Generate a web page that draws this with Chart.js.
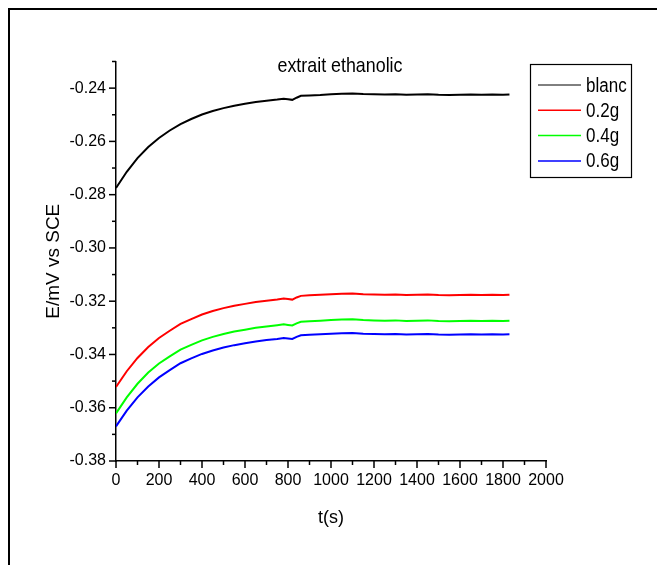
<!DOCTYPE html>
<html>
<head>
<meta charset="utf-8">
<script src="https://cdn.jsdelivr.net/npm/chart.js@4.4.1/dist/chart.umd.min.js"></script>
<style>
    body { margin: 0; background: #fff; }
    #quadro { position: relative; width: 657px; height: 565px; overflow: hidden; }
    #moldura {
        position: absolute; left: 8px; top: 8px; width: 700px; height: 600px;
        border-left: 2px solid #000; border-top: 2px solid #000;
    }
    canvas { position: absolute; left: 0; top: 0; }
</style>
</head>
<body>
<div id="quadro">
    <div id="moldura"></div>
    <canvas id="grafico" width="657" height="565"></canvas>
</div>
<script>
// tempo (s)
const tempos = [0, 50, 100, 150, 200, 250, 300, 350, 400, 450, 500, 550, 600, 650, 700, 750,
    780, 800, 820, 840, 860, 900, 950, 1000, 1050, 1100, 1150, 1200, 1250, 1300, 1350,
    1400, 1450, 1500, 1550, 1600, 1650, 1700, 1750, 1800, 1830];

const blanc = [-0.2775, -0.2714, -0.2663, -0.2621, -0.2587, -0.2559, -0.2535, -0.2516, -0.2499, -0.2486,
    -0.2475, -0.2466, -0.2459, -0.2452, -0.2447, -0.2443, -0.2440, -0.2442, -0.2444, -0.2436,
    -0.2429, -0.2428, -0.2426, -0.2423, -0.2421, -0.2420, -0.2422, -0.2423, -0.2424, -0.2423,
    -0.2425, -0.2424, -0.2423, -0.2425, -0.2426, -0.2425, -0.2424, -0.2425, -0.2424, -0.2425, -0.2424];

const g02 = [-0.3522, -0.3463, -0.3413, -0.3372, -0.3338, -0.3311, -0.3285, -0.3267, -0.3250, -0.3237,
    -0.3226, -0.3217, -0.3210, -0.3203, -0.3198, -0.3194, -0.3190, -0.3192, -0.3194, -0.3186,
    -0.3180, -0.3178, -0.3176, -0.3174, -0.3172, -0.3171, -0.3174, -0.3175, -0.3176, -0.3175,
    -0.3177, -0.3176, -0.3175, -0.3177, -0.3178, -0.3177, -0.3176, -0.3177, -0.3176, -0.3177, -0.3176];

const g04 = [-0.3621, -0.3561, -0.3510, -0.3468, -0.3434, -0.3407, -0.3382, -0.3364, -0.3347, -0.3334,
    -0.3323, -0.3314, -0.3307, -0.3300, -0.3295, -0.3290, -0.3287, -0.3289, -0.3291, -0.3283,
    -0.3277, -0.3275, -0.3273, -0.3271, -0.3269, -0.3268, -0.3271, -0.3272, -0.3273, -0.3272,
    -0.3274, -0.3273, -0.3272, -0.3274, -0.3275, -0.3274, -0.3273, -0.3274, -0.3273, -0.3274, -0.3273];

const g06 = [-0.3670, -0.3611, -0.3561, -0.3520, -0.3486, -0.3459, -0.3433, -0.3415, -0.3398, -0.3385,
    -0.3374, -0.3365, -0.3358, -0.3351, -0.3346, -0.3342, -0.3338, -0.3340, -0.3342, -0.3334,
    -0.3328, -0.3326, -0.3324, -0.3322, -0.3320, -0.3319, -0.3322, -0.3323, -0.3324, -0.3323,
    -0.3325, -0.3324, -0.3323, -0.3325, -0.3326, -0.3325, -0.3324, -0.3325, -0.3324, -0.3325, -0.3324];

const rotulos = ['blanc', '0.2g', '0.4g', '0.6g'];
const cores = ['#000000', '#ff0000', '#00ff00', '#0000ff'];
const titulo = 'extrait ethanolic';

const FONTE = '"Liberation Sans", Arial, sans-serif';
const APERTO = 0.85; // texto um pouco estreitado na horizontal, como no original

function serie(valores) {
    return tempos.map((t, i) => ({ x: t, y: valores[i] }));
}

// escreve texto estreitado horizontalmente
function textoEstreito(ctx, texto, x, y) {
    ctx.save();
    ctx.translate(x, y);
    ctx.scale(APERTO, 1);
    ctx.fillText(texto, 0, 0);
    ctx.restore();
}

// Desenha os traços dos eixos (maiores nos rótulos, menores nos intermediários)
const tracosEixos = {
    id: 'tracosEixos',
    afterDraw(chart) {
        const ctx = chart.ctx;
        ctx.save();
        ctx.strokeStyle = '#000';
        ctx.lineWidth = 1.5;
        const sx = chart.scales.x;
        sx.ticks.forEach(t => {
            const p = sx.getPixelForValue(t.value);
            const len = t.label !== '' ? 7 : 4;
            ctx.beginPath();
            ctx.moveTo(p, sx.top);
            ctx.lineTo(p, sx.top + len);
            ctx.stroke();
        });
        const sy = chart.scales.y;
        sy.ticks.forEach(t => {
            const p = sy.getPixelForValue(t.value);
            const len = t.label !== '' ? 7 : 4;
            ctx.beginPath();
            ctx.moveTo(sy.right, p);
            ctx.lineTo(sy.right - len, p);
            ctx.stroke();
        });
        ctx.restore();
    }
};

// Título e legenda dentro da área do gráfico
const tituloLegenda = {
    id: 'tituloLegenda',
    afterDraw(chart) {
        const ctx = chart.ctx;
        ctx.save();
        ctx.fillStyle = '#000';
        ctx.font = '21px ' + FONTE;
        ctx.textAlign = 'center';
        ctx.textBaseline = 'middle';
        textoEstreito(ctx, titulo, 340, 66);

        // caixa da legenda
        ctx.strokeStyle = '#000';
        ctx.lineWidth = 1.2;
        ctx.strokeRect(530.5, 64.5, 101, 113);

        ctx.font = '20px ' + FONTE;
        ctx.textAlign = 'left';
        chart.data.datasets.forEach((ds, i) => {
            const y = 85 + i * 25.3;
            ctx.strokeStyle = ds.borderColor;
            ctx.lineWidth = i === 0 ? 1 : 1.5;
            ctx.beginPath();
            ctx.moveTo(538, y);
            ctx.lineTo(581, y);
            ctx.stroke();
            ctx.fillStyle = '#000';
            textoEstreito(ctx, ds.label, 586, y + 1);
        });
        ctx.restore();
    }
};

new Chart(document.getElementById('grafico'), {
    type: 'line',
    data: {
        datasets: [blanc, g02, g04, g06].map((v, i) => ({
            label: rotulos[i],
            data: serie(v),
            borderColor: cores[i],
            backgroundColor: cores[i],
            borderWidth: 2,
            pointRadius: 0,
            tension: 0,
            fill: false
        }))
    },
    options: {
        responsive: false,
        animation: false,
        layout: {
            padding: { left: 42, top: 61.5, right: 111, bottom: 36 }
        },
        plugins: {
            legend: { display: false },
            tooltip: { enabled: false }
        },
        scales: {
            x: {
                type: 'linear',
                min: 0,
                max: 2000,
                afterFit: function(scale) { scale.height = 565 - 36 - 461; },
                border: { display: true, color: '#000', width: 1.5 },
                grid: { display: false, drawTicks: false },
                ticks: {
                    stepSize: 100,
                    autoSkip: false,
                    maxRotation: 0,
                    minRotation: 0,
                    padding: 10,
                    color: '#000',
                    font: { family: FONTE, size: 16 },
                    callback: function(value) {
                        return value % 200 === 0 ? String(value) : '';
                    }
                },
                title: {
                    display: true,
                    text: 't(s)',
                    color: '#000',
                    padding: 0,
                    font: { family: FONTE, size: 18 }
                }
            },
            y: {
                min: -0.38,
                max: -0.23,
                afterFit: function(scale) { scale.width = 116 - 42; },
                border: { display: true, color: '#000', width: 1.5 },
                grid: { display: false, drawTicks: false },
                ticks: {
                    stepSize: 0.01,
                    autoSkip: false,
                    padding: 10,
                    color: '#000',
                    font: { family: FONTE, size: 16 },
                    callback: function(value) {
                        const c = Math.round(value * 100);
                        return c % 2 === 0 ? (c / 100).toFixed(2) : '';
                    }
                },
                title: {
                    display: true,
                    text: 'E/mV vs SCE',
                    color: '#000',
                    padding: 0,
                    font: { family: FONTE, size: 19 }
                }
            }
        }
    },
    plugins: [tracosEixos, tituloLegenda]
});
</script>
</body>
</html>
